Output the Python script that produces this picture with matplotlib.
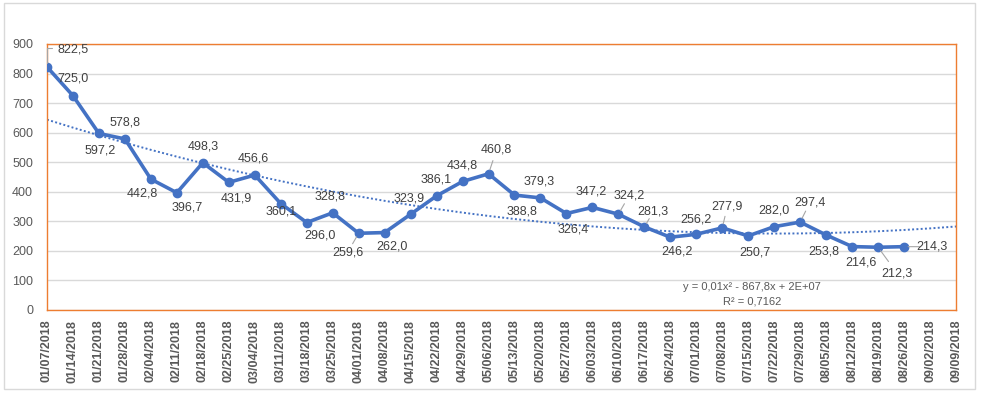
import numpy as np
import matplotlib.pyplot as plt
from matplotlib.patches import Rectangle

plt.rcParams['font.family'] = ['Liberation Sans', 'DejaVu Sans']

# weekly values
dates = ["01/07/2018", "01/14/2018", "01/21/2018", "01/28/2018", "02/04/2018", "02/11/2018",
         "02/18/2018", "02/25/2018", "03/04/2018", "03/11/2018", "03/18/2018", "03/25/2018",
         "04/01/2018", "04/08/2018", "04/15/2018", "04/22/2018", "04/29/2018", "05/06/2018",
         "05/13/2018", "05/20/2018", "05/27/2018", "06/03/2018", "06/10/2018", "06/17/2018",
         "06/24/2018", "07/01/2018", "07/08/2018", "07/15/2018", "07/22/2018", "07/29/2018",
         "08/05/2018", "08/12/2018", "08/19/2018", "08/26/2018", "09/02/2018", "09/09/2018"]
values = [822.5, 725.0, 597.2, 578.8, 442.8, 396.7, 498.3, 431.9, 456.6, 360.1, 296.0, 328.8,
          259.6, 262.0, 323.9, 386.1, 434.8, 460.8, 388.8, 379.3, 326.4, 347.2, 324.2, 281.3,
          246.2, 256.2, 277.9, 250.7, 282.0, 297.4, 253.8, 214.6, 212.3, 214.3]
yticks = [0, 100, 200, 300, 400, 500, 600, 700, 800, 900]

# label offsets in pixels (dx, dy up) and which labels get a leader line
label_off = [(26, 17), (0, 17), (1, -17), (0, 16), (-9, -14), (10, -15), (0, 16), (8, -16),
             (-1, 17), (0, -8), (13, -13), (-3, 16), (-11, -19), (7, -14), (-1, 16), (0, 16),
             (0, 16), (8, 24), (8, -16), (-1, 16), (7, -16), (-1, 16), (11, 19), (9, 15),
             (7, -14), (0, 15), (5, 21), (7, -17), (0, 16), (10, 20), (-2, -17), (9, -16),
             (19, -26), (28, 0)]
leaders = {12, 17, 22, 23, 26, 29, 32, 33}

blue = "#4472C4"
grey_txt = "#595959"
PX = 0.72  # points per pixel at dpi 100

fig = plt.figure(figsize=(9.81, 3.95), dpi=100)
fig.patches.append(Rectangle((4 / 981, 1 - 389 / 395), 971 / 981, 386 / 395,
                             transform=fig.transFigure, fill=False, edgecolor="#D9D9D9", lw=1))
ax = fig.add_axes([47 / 981, 1 - 310 / 395, 909 / 981, 266 / 395])

x = np.arange(len(values))
xall = np.arange(len(dates))

# polynomial trend (order 2), extended to the end of the axis
coef = np.polyfit(x, values, 2)
ax.plot(xall, np.polyval(coef, xall), color=blue, lw=1.4, ls=(0, (1, 1.2)), zorder=2)

ax.plot(x, values, color=blue, lw=2.6, marker="o", ms=6, zorder=3)

for i, v in enumerate(values):
    dx, dy = label_off[i]
    txt = f"{v:.1f}".replace(".", ",")
    ax.annotate(txt, (i, v), xytext=(dx * PX, dy * PX), textcoords="offset points",
                ha="center", va="center", fontsize=9, color="#404040", zorder=4)
    if i in leaders:
        ax.annotate("", (i, v), xytext=(dx * PX * 0.55, dy * PX * 0.55),
                    textcoords="offset points",
                    arrowprops=dict(arrowstyle="-", color="#A6A6A6", lw=0.8,
                                    shrinkA=0, shrinkB=3))

# leader for first label: up from the point, then right
x0, y0 = ax.transData.transform((0, values[0]))
ax.annotate("", (0, values[0]), xytext=(5 * PX, 19 * PX), textcoords="offset points",
            arrowprops=dict(arrowstyle="-", color="#A6A6A6", lw=0.8, shrinkA=0, shrinkB=3,
                            connectionstyle="angle,angleA=0,angleB=90,rad=0"))

fig.text(752 / 981, 1 - 287 / 395, "y = 0,01x² - 867,8x + 2E+07",
         ha="center", va="center", fontsize=8, color=grey_txt)
fig.text(752 / 981, 1 - 302 / 395, "R² = 0,7162",
         ha="center", va="center", fontsize=8, color=grey_txt)

ax.set_xlim(0, len(dates) - 1)
ax.set_ylim(0, 900)
ax.set_yticks(yticks)
ax.set_yticklabels([str(t) for t in yticks], fontsize=9, color=grey_txt)
ax.set_xticks(xall)
ax.set_xticklabels(dates, rotation=90, fontsize=9, fontweight="bold", color=grey_txt)
ax.tick_params(length=0, pad=10)
ax.tick_params(axis="x", pad=7)
ax.grid(axis="y", color="#D9D9D9", lw=1)
ax.set_axisbelow(True)
for s in ax.spines.values():
    s.set_color("#ED7D31")
    s.set_linewidth(1)

fig.savefig("out.png", dpi=100)
